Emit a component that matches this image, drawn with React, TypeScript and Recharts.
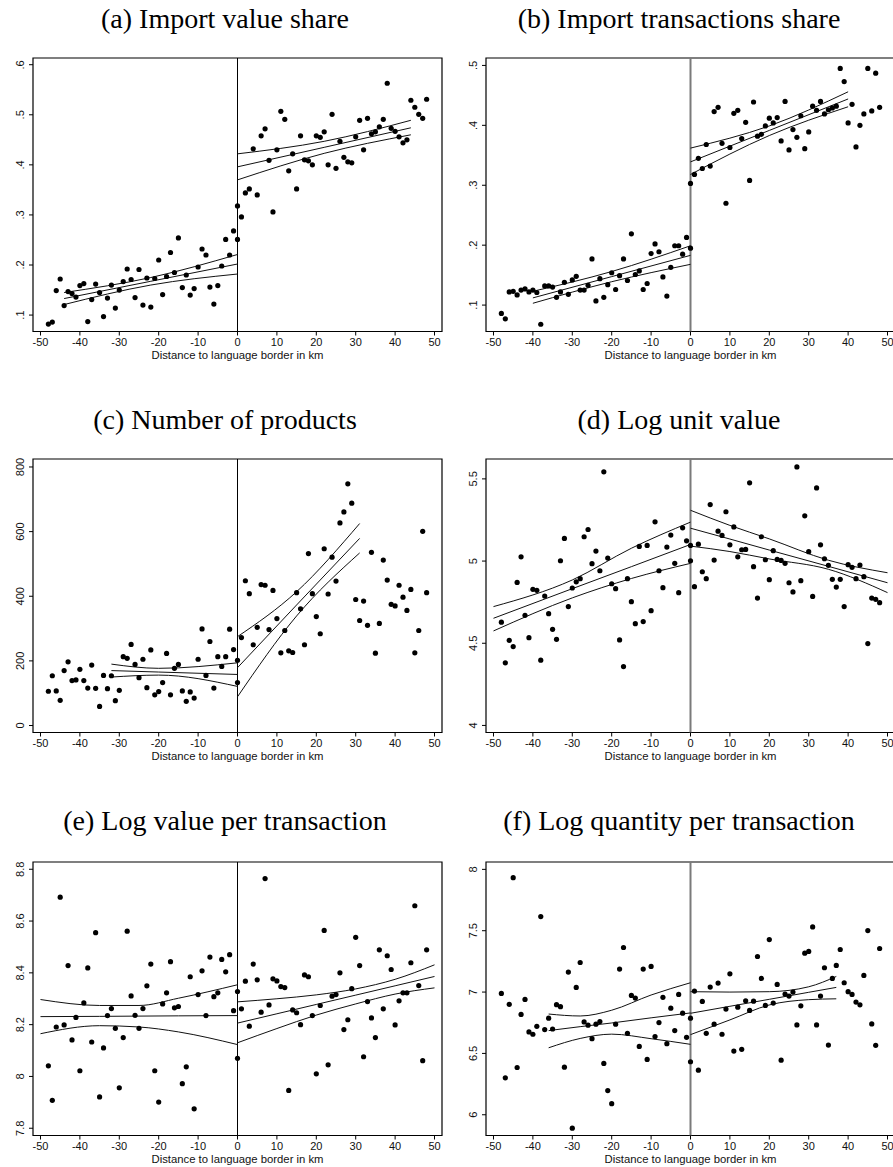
import {
  ComposedChart,
  Scatter,
  Line,
  XAxis,
  YAxis,
  ReferenceLine,
  ReferenceArea,
} from "recharts"

// distance bins (km) on each side of the language border
const DIST_LEFT = [
  -48, -47, -46, -45, -44, -43, -42, -41, -40, -39, -38, -37, -36, -35, -34, -33, -32,
  -31, -30, -29, -28, -27, -26, -25, -24, -23, -22, -21, -20, -19, -18, -17, -16, -15,
  -14, -13, -12, -11, -10, -9, -8, -7, -6, -5, -4, -3, -2, -1, 0,
]
const DIST_RIGHT = [
  0, 1, 2, 3, 4, 5, 6, 7, 8, 9, 10, 11, 12, 13, 14, 15, 16, 17, 18, 19, 20, 21, 22, 23,
  24, 25, 26, 27, 28, 29, 30, 31, 32, 33, 34, 35, 36, 37, 38, 39, 40, 41, 42, 43, 44, 45,
  46, 47, 48,
]
const X_TICKS = [-50, -40, -30, -20, -10, 0, 10, 20, 30, 40, 50]
const X_DOMAIN: [number, number] = [-51.9, 51.9]

// (a) Import value share
const valueShareLeft = [
  0.082, 0.086, 0.149, 0.172, 0.119, 0.147, 0.143, 0.136, 0.159, 0.163, 0.087, 0.131,
  0.162, 0.145, 0.097, 0.134, 0.16, 0.114, 0.15, 0.167, 0.192, 0.171, 0.135, 0.191, 0.12,
  0.174, 0.116, 0.173, 0.21, 0.141, 0.177, 0.225, 0.185, 0.254, 0.155, 0.18, 0.14, 0.153,
  0.196, 0.232, 0.22, 0.156, 0.122, 0.159, 0.198, 0.251, 0.22, 0.268, 0.251,
]
const valueShareRight = [
  0.318, 0.296, 0.344, 0.352, 0.432, 0.34, 0.458, 0.472, 0.409, 0.306, 0.43, 0.507, 0.491,
  0.388, 0.422, 0.352, 0.458, 0.41, 0.408, 0.4, 0.458, 0.455, 0.466, 0.4, 0.501, 0.393,
  0.447, 0.415, 0.406, 0.404, 0.456, 0.489, 0.43, 0.493, 0.462, 0.466, 0.476, 0.491, 0.563,
  0.473, 0.467, 0.456, 0.444, 0.45, 0.529, 0.515, 0.501, 0.493, 0.531,
]
const valueShareFitL = {
  x: [-44, -22, 0],
  hi: [0.145, 0.175, 0.221],
  mid: [0.133, 0.1675, 0.202],
  lo: [0.121, 0.16, 0.182],
}
const valueShareFitR = {
  x: [0, 22, 44],
  hi: [0.422, 0.447, 0.489],
  mid: [0.396, 0.435, 0.474],
  lo: [0.37, 0.423, 0.46],
}

// (b) Import transactions share
const transShareLeft = [
  0.086, 0.077, 0.122, 0.123, 0.117, 0.125, 0.127, 0.122, 0.125, 0.121, 0.068, 0.132,
  0.132, 0.13, 0.113, 0.122, 0.138, 0.118, 0.142, 0.148, 0.125, 0.125, 0.133, 0.177, 0.107,
  0.144, 0.113, 0.134, 0.154, 0.126, 0.149, 0.177, 0.141, 0.219, 0.151, 0.157, 0.126,
  0.136, 0.186, 0.202, 0.189, 0.147, 0.115, 0.163, 0.199, 0.199, 0.185, 0.213, 0.195,
]
const transShareRight = [
  0.303, 0.318, 0.345, 0.328, 0.368, 0.332, 0.423, 0.43, 0.37, 0.27, 0.363, 0.42, 0.425,
  0.378, 0.405, 0.308, 0.439, 0.382, 0.385, 0.399, 0.412, 0.404, 0.413, 0.374, 0.44, 0.359,
  0.393, 0.38, 0.416, 0.361, 0.389, 0.432, 0.425, 0.44, 0.419, 0.426, 0.429, 0.432, 0.495,
  0.473, 0.404, 0.435, 0.364, 0.4, 0.419, 0.495, 0.424, 0.487, 0.43,
]
const transShareFitL = {
  x: [-40, -20, 0],
  hi: [0.123, 0.156, 0.199],
  mid: [0.112, 0.1475, 0.183],
  lo: [0.103, 0.139, 0.168],
}
const transShareFitR = {
  x: [0, 20, 40],
  hi: [0.362, 0.399, 0.456],
  mid: [0.339, 0.3915, 0.444],
  lo: [0.318, 0.383, 0.431],
}

// (c) Number of products
const productsLeft = [
  106, 154, 107, 78, 170, 197, 139, 141, 174, 139, 116, 187, 115, 59, 155, 114, 154, 77,
  109, 213, 208, 251, 189, 148, 205, 117, 234, 95, 105, 133, 223, 95, 177, 189, 107, 75,
  104, 85, 205, 299, 155, 260, 116, 213, 183, 213, 298, 235, 133,
]
const productsRight = [
  202, 272, 448, 408, 250, 304, 436, 434, 297, 418, 331, 225, 294, 231, 226, 411, 361, 250,
  532, 408, 337, 284, 547, 407, 521, 447, 627, 661, 748, 688, 390, 325, 385, 310, 536, 224,
  316, 512, 450, 375, 370, 434, 397, 356, 421, 225, 294, 601, 411,
]
const productsFitL = {
  x: [-32, -20, 0],
  hi: [190, 177, 194],
  mid: [170, 165.5, 158],
  lo: [150, 156, 121],
}
const productsFitR = {
  x: [0, 15, 31],
  hi: [275, 414, 625],
  mid: [179, 373, 579],
  lo: [89, 339, 534],
}

// (d) Log unit value
const unitValueLeft = [
  4.628, 4.381, 4.518, 4.48, 4.87, 5.026, 4.67, 4.534, 4.828, 4.822, 4.397, 4.787, 4.68,
  4.585, 4.524, 5.002, 5.138, 4.723, 4.836, 4.874, 4.893, 5.148, 5.192, 4.984, 5.061,
  4.941, 5.543, 5.018, 4.862, 4.832, 4.52, 4.358, 4.893, 4.753, 4.619, 5.089, 4.632, 5.095,
  4.698, 5.239, 4.941, 4.838, 5.085, 5.158, 4.986, 4.808, 5.202, 5.123, 5.002,
]
const unitValueRight = [
  5.095, 4.844, 5.103, 4.935, 4.893, 5.344, 5.006, 5.182, 5.156, 5.3, 5.099, 5.208, 5.026,
  5.069, 5.071, 5.476, 4.966, 4.775, 5.148, 5.008, 4.887, 5.063, 5.01, 5.004, 4.986, 4.868,
  4.812, 5.573, 4.881, 5.275, 5.057, 4.785, 5.445, 5.099, 5.014, 4.974, 4.889, 4.842,
  4.889, 4.723, 4.978, 4.962, 4.893, 4.976, 4.905, 4.498, 4.775, 4.767, 4.747,
]
const unitValueFitL = {
  x: [-50, -30, -15, 0],
  hi: [4.723, 4.885, 5.078, 5.237],
  mid: [4.652, 4.832, 4.966, 5.101],
  lo: [4.575, 4.776, 4.894, 4.986],
}
const unitValueFitR = {
  x: [0, 10, 20, 35, 50],
  hi: [5.309, 5.217, 5.135, 5.005, 4.929],
  mid: [5.2, 5.134, 5.067, 4.968, 4.868],
  lo: [5.091, 5.058, 5.013, 4.95, 4.808],
}

// (e) Log value per transaction
const valuePerTxLeft = [
  8.041, 7.908, 8.191, 8.692, 8.199, 8.428, 8.141, 8.228, 8.022, 8.284, 8.419, 8.133,
  8.555, 7.921, 8.11, 8.235, 8.262, 8.186, 7.956, 8.15, 8.561, 8.311, 8.236, 8.186, 8.262,
  8.35, 8.434, 8.022, 7.901, 8.28, 8.323, 8.443, 8.265, 8.27, 7.972, 8.037, 8.385, 7.875,
  8.316, 8.408, 8.235, 8.461, 8.308, 8.323, 8.452, 8.404, 8.47, 8.254, 8.328,
]
const valuePerTxRight = [
  8.07, 8.261, 8.368, 8.194, 8.434, 8.373, 8.248, 8.764, 8.276, 8.377, 8.369, 8.347, 8.343,
  7.946, 8.257, 8.246, 8.2, 8.392, 8.385, 8.235, 8.01, 8.274, 8.564, 8.045, 8.31, 8.316,
  8.4, 8.181, 8.219, 8.339, 8.537, 8.428, 8.076, 8.289, 8.226, 8.15, 8.489, 8.261, 8.466,
  8.413, 8.199, 8.292, 8.323, 8.323, 8.439, 8.659, 8.351, 8.061, 8.489,
]
const valuePerTxFitL = {
  x: [-50, -35, -25, -15, 0],
  hi: [8.297, 8.274, 8.274, 8.302, 8.354],
  mid: [8.231, 8.232, 8.233, 8.234, 8.235],
  lo: [8.165, 8.196, 8.191, 8.172, 8.123],
}
const valuePerTxFitR = {
  x: [0, 10, 20, 30, 40, 50],
  hi: [8.288, 8.3, 8.315, 8.338, 8.375, 8.431],
  mid: [8.206, 8.242, 8.278, 8.314, 8.35, 8.386],
  lo: [8.13, 8.185, 8.237, 8.28, 8.318, 8.342],
}

// (f) Log quantity per transaction
const qtyPerTxLeft = [
  6.989, 6.301, 6.9, 7.932, 6.385, 6.818, 6.94, 6.675, 6.656, 6.721, 7.615, 6.694, 6.787,
  6.699, 6.897, 6.881, 6.388, 7.163, 5.891, 7.038, 7.241, 6.757, 6.73, 6.62, 6.738, 6.76,
  6.418, 6.197, 6.09, 6.738, 7.187, 7.363, 6.664, 6.973, 6.951, 6.557, 7.187, 6.451, 7.209,
  6.637, 6.751, 6.957, 6.579, 6.869, 6.686, 6.981, 6.828, 6.631, 6.787,
]
const qtyPerTxRight = [
  6.432, 7.008, 6.363, 6.924, 6.664, 7.041, 6.738, 7.073, 6.656, 6.861, 7.149, 6.519,
  6.877, 6.533, 6.929, 6.85, 6.926, 7.29, 7.111, 6.891, 7.428, 6.91, 7.062, 6.445, 6.984,
  6.967, 7.0, 6.732, 6.888, 7.317, 7.331, 7.531, 6.732, 6.967, 7.198, 6.568, 7.111, 7.217,
  7.347, 7.076, 7.003, 6.981, 6.918, 6.896, 7.136, 7.501, 6.74, 6.566, 7.355,
]
const qtyPerTxFitL = {
  x: [-36, -28, -20, -10, 0],
  hi: [6.821, 6.805, 6.852, 6.976, 7.076],
  mid: [6.686, 6.718, 6.748, 6.79, 6.83],
  lo: [6.546, 6.622, 6.657, 6.62, 6.574],
}
const qtyPerTxFitR = {
  x: [0, 10, 20, 30, 37],
  hi: [7.003, 7.0, 7.003, 7.043, 7.127],
  mid: [6.827, 6.884, 6.941, 6.998, 7.038],
  lo: [6.653, 6.773, 6.895, 6.938, 6.945],
}

type Fit = { x: number[]; hi: number[]; mid: number[]; lo: number[] }

const toPoints = (xs: number[], ys: number[]) => xs.map((x, i) => ({ x, y: ys[i] }))
const toFit = (f: Fit) =>
  f.x.map((x, i) => ({ x, hi: f.hi[i], mid: f.mid[i], lo: f.lo[i] }))

const shareFmt = (v: number) => v.toFixed(1).replace(/^0/, "")
const plainFmt = (v: number) => String(v)

const SANS = "'Liberation Sans', Arial, Helvetica, sans-serif"
const PLOT_W = 409
const PLOT_H = 273.5
const Y_AXIS_W = 33
const X_AXIS_H = 32

interface PanelProps {
  left: number
  top: number
  yDomain: [number, number]
  yTicks: number[]
  fmt: (v: number) => string
  leftVals: number[]
  rightVals: number[]
  fitL: Fit
  fitR: Fit
  grayBorder?: boolean
}

function YTick(props: any) {
  const { x, y, payload, fmt } = props
  const cx = x - 9
  return (
    <text
      x={cx}
      y={y}
      transform={`rotate(-90 ${cx} ${y})`}
      textAnchor="middle"
      dy="0.35em"
      fontSize={11}
      fontFamily={SANS}
      fill="#111"
    >
      {fmt(payload.value)}
    </text>
  )
}

function Panel({
  left,
  top,
  yDomain,
  yTicks,
  fmt,
  leftVals,
  rightVals,
  fitL,
  fitR,
  grayBorder,
}: PanelProps) {
  const points = [...toPoints(DIST_LEFT, leftVals), ...toPoints(DIST_RIGHT, rightVals)]
  const fl = toFit(fitL)
  const fr = toFit(fitR)
  const lineProps = {
    type: "monotone" as const,
    dot: false,
    stroke: "#111",
    strokeWidth: 1,
    isAnimationActive: false,
    activeDot: false,
  }
  return (
    <div style={{ position: "absolute", left, top }}>
      <ComposedChart
        width={Y_AXIS_W + PLOT_W + 2}
        height={PLOT_H + X_AXIS_H + 2}
        margin={{ top: 2, right: 2, bottom: 0, left: 0 }}
      >
        <XAxis
          dataKey="x"
          type="number"
          domain={X_DOMAIN}
          ticks={X_TICKS}
          allowDataOverflow
          axisLine={false}
          tickLine={{ stroke: "#000" }}
          tickSize={4}
          tickMargin={3}
          height={X_AXIS_H}
          tick={{ fontSize: 11, fontFamily: SANS, fill: "#111" }}
          label={{
            value: "Distance to language border in km",
            position: "insideBottom",
            offset: 5,
            fontSize: 11.3,
            fontFamily: SANS,
            fill: "#111",
          }}
        />
        <YAxis
          dataKey="y"
          type="number"
          domain={yDomain}
          ticks={yTicks}
          allowDataOverflow
          axisLine={false}
          tickLine={{ stroke: "#000" }}
          tickSize={4}
          tickMargin={0}
          width={Y_AXIS_W}
          tick={<YTick fmt={fmt} />}
        />
        <ReferenceArea
          x1={X_DOMAIN[0]}
          x2={X_DOMAIN[1]}
          y1={yDomain[0]}
          y2={yDomain[1]}
          fill="none"
          fillOpacity={0}
          stroke="#000"
          strokeWidth={1.2}
          ifOverflow="visible"
        />
        <ReferenceLine
          x={0}
          stroke={grayBorder ? "#7a7a7a" : "#000"}
          strokeWidth={grayBorder ? 2 : 1}
        />
        <Line data={fl} dataKey="hi" {...lineProps} />
        <Line data={fl} dataKey="mid" {...lineProps} />
        <Line data={fl} dataKey="lo" {...lineProps} />
        <Line data={fr} dataKey="hi" {...lineProps} />
        <Line data={fr} dataKey="mid" {...lineProps} />
        <Line data={fr} dataKey="lo" {...lineProps} />
        <Scatter
          data={points}
          dataKey="y"
          isAnimationActive={false}
          shape={(p: any) => <circle cx={p.cx} cy={p.cy} r={2.6} fill="#000" />}
        />
      </ComposedChart>
    </div>
  )
}

const TITLES = [
  { text: "(a) Import value share", x: 225, y: 27.5 },
  { text: "(b) Import transactions share", x: 679, y: 27.5 },
  { text: "(c) Number of products", x: 225, y: 428.5 },
  { text: "(d) Log unit value", x: 679, y: 428.5 },
  { text: "(e) Log value per transaction", x: 225, y: 830 },
  { text: "(f) Log quantity per transaction", x: 679, y: 830 },
]

export default function App() {
  const leftX = 0
  const rightX = 453
  const rows = [56.3, 457.3, 859.7]
  return (
    <div
      style={{
        position: "absolute",
        left: 0,
        top: 0,
        width: 893,
        height: 1167,
        overflow: "hidden",
        background: "#fff",
      }}
    >
      <svg
        width={893}
        height={1167}
        style={{ position: "absolute", left: 0, top: 0, pointerEvents: "none" }}
      >
        {TITLES.map((t) => (
          <text
            key={t.text}
            x={t.x}
            y={t.y}
            textAnchor="middle"
            fontSize={28}
            fontFamily="'Liberation Serif', 'Times New Roman', serif"
            fill="#000"
          >
            {t.text}
          </text>
        ))}
      </svg>
      <Panel
        left={leftX}
        top={rows[0]}
        yDomain={[0.0672, 0.6134]}
        yTicks={[0.1, 0.2, 0.3, 0.4, 0.5, 0.6]}
        fmt={shareFmt}
        leftVals={valueShareLeft}
        rightVals={valueShareRight}
        fitL={valueShareFitL}
        fitR={valueShareFitR}
      />
      <Panel
        left={rightX}
        top={rows[0]}
        yDomain={[0.0559, 0.5124]}
        yTicks={[0.1, 0.2, 0.3, 0.4, 0.5]}
        fmt={shareFmt}
        leftVals={transShareLeft}
        rightVals={transShareRight}
        fitL={transShareFitL}
        fitR={transShareFitR}
        grayBorder
      />
      <Panel
        left={leftX}
        top={rows[1]}
        yDomain={[-21.6, 824.7]}
        yTicks={[0, 200, 400, 600, 800]}
        fmt={plainFmt}
        leftVals={productsLeft}
        rightVals={productsRight}
        fitL={productsFitL}
        fitR={productsFitR}
      />
      <Panel
        left={rightX}
        top={rows[1]}
        yDomain={[3.957, 5.621]}
        yTicks={[4, 4.5, 5, 5.5]}
        fmt={plainFmt}
        leftVals={unitValueLeft}
        rightVals={unitValueRight}
        fitL={unitValueFitL}
        fitR={unitValueFitR}
        grayBorder
      />
      <Panel
        left={leftX}
        top={rows[2]}
        yDomain={[7.772, 8.828]}
        yTicks={[7.8, 8, 8.2, 8.4, 8.6, 8.8]}
        fmt={plainFmt}
        leftVals={valuePerTxLeft}
        rightVals={valuePerTxRight}
        fitL={valuePerTxFitL}
        fitR={valuePerTxFitR}
      />
      <Panel
        left={rightX}
        top={rows[2]}
        yDomain={[5.831, 8.06]}
        yTicks={[6, 6.5, 7, 7.5, 8]}
        fmt={plainFmt}
        leftVals={qtyPerTxLeft}
        rightVals={qtyPerTxRight}
        fitL={qtyPerTxFitL}
        fitR={qtyPerTxFitR}
        grayBorder
      />
    </div>
  )
}
